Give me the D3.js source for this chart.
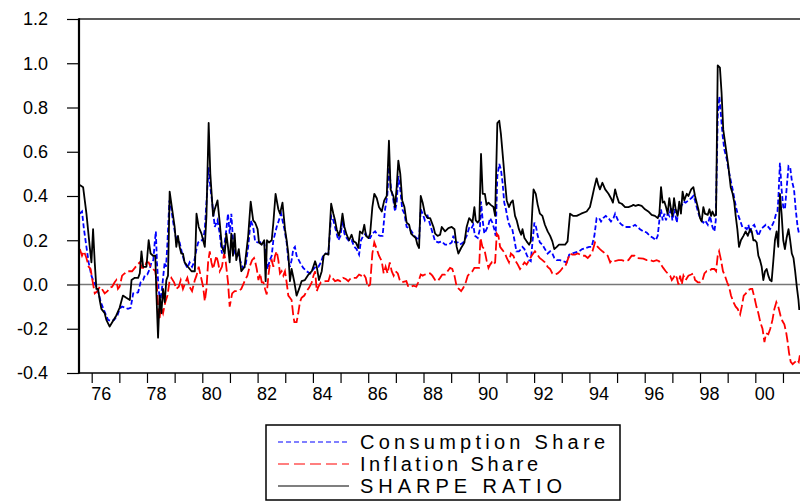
<!DOCTYPE html>
<html>
<head>
<meta charset="utf-8">
<script src="https://cdn.jsdelivr.net/npm/d3@7"></script>
<style>
  body { margin: 0; background: #fff; }
  svg { display: block; font-family: "Liberation Sans", Arial, sans-serif; }
</style>
</head>
<body>
<div id="chart"></div>
<script>
// series values as [year, value]
const consumption = [
  [1975.57,0.32],[1975.65,0.33],[1975.72,0.25],[1975.81,0.17],[1975.89,0.10],[1975.99,0.04],[1976.08,0.01],[1976.17,-0.01],
  [1976.25,-0.04],[1976.33,-0.08],[1976.41,-0.105],[1976.49,-0.13],[1976.59,-0.16],[1976.69,-0.165],[1976.81,-0.16],[1976.93,-0.14],
  [1977.01,-0.11],[1977.10,-0.10],[1977.22,-0.105],[1977.31,-0.11],[1977.41,-0.105],[1977.50,-0.04],[1977.58,-0.04],[1977.68,-0.035],
  [1977.77,0.01],[1977.86,0.02],[1977.92,0.04],[1978.01,0.045],[1978.10,0.07],[1978.16,0.10],[1978.23,0.11],[1978.28,0.19],
  [1978.32,0.24],[1978.36,0.10],[1978.42,-0.02],[1978.48,-0.08],[1978.54,-0.02],[1978.59,0.04],[1978.64,0.10],[1978.69,0.08],
  [1978.74,0.19],[1978.81,0.38],[1978.88,0.34],[1978.95,0.28],[1979.03,0.22],[1979.10,0.20],[1979.18,0.19],[1979.27,0.14],
  [1979.36,0.10],[1979.46,0.075],[1979.54,0.10],[1979.63,0.08],[1979.70,0.10],[1979.79,0.16],[1979.85,0.19],[1979.94,0.20],
  [1980.03,0.20],[1980.09,0.25],[1980.18,0.43],[1980.23,0.53],[1980.29,0.44],[1980.36,0.37],[1980.45,0.26],[1980.55,0.29],
  [1980.63,0.23],[1980.71,0.14],[1980.79,0.17],[1980.87,0.25],[1980.93,0.32],[1980.99,0.23],[1981.05,0.32],[1981.11,0.20],
  [1981.20,0.13],[1981.29,0.14],[1981.39,0.10],[1981.47,0.075],[1981.56,0.08],[1981.66,0.17],[1981.75,0.29],[1981.84,0.26],
  [1981.91,0.195],[1982.00,0.19],[1982.09,0.19],[1982.17,0.195],[1982.24,0.19],[1982.30,0.13],[1982.36,0.07],[1982.44,0.11],
  [1982.51,0.13],[1982.57,0.20],[1982.63,0.23],[1982.69,0.26],[1982.77,0.29],[1982.85,0.32],[1982.90,0.29],[1982.97,0.25],
  [1983.05,0.19],[1983.11,0.11],[1983.17,0.08],[1983.23,0.11],[1983.29,0.16],[1983.35,0.17],[1983.41,0.13],[1983.53,0.10],
  [1983.65,0.075],[1983.77,0.06],[1983.90,0.05],[1984.02,0.07],[1984.10,0.08],[1984.20,0.08],[1984.29,0.10],[1984.38,0.135],
  [1984.46,0.14],[1984.56,0.14],[1984.66,0.31],[1984.74,0.29],[1984.82,0.25],[1984.92,0.20],[1985.00,0.22],[1985.07,0.29],
  [1985.14,0.23],[1985.22,0.21],[1985.31,0.195],[1985.40,0.20],[1985.50,0.17],[1985.58,0.16],[1985.67,0.135],[1985.74,0.20],
  [1985.82,0.22],[1985.91,0.23],[1985.98,0.21],[1986.07,0.21],[1986.15,0.23],[1986.25,0.24],[1986.34,0.225],[1986.43,0.22],
  [1986.52,0.22],[1986.61,0.34],[1986.69,0.40],[1986.75,0.53],[1986.83,0.43],[1986.91,0.38],[1986.97,0.33],[1987.03,0.37],
  [1987.09,0.49],[1987.16,0.43],[1987.23,0.34],[1987.31,0.32],[1987.39,0.26],[1987.48,0.255],[1987.57,0.24],[1987.67,0.22],
  [1987.75,0.21],[1987.84,0.20],[1987.90,0.34],[1987.97,0.32],[1988.05,0.29],[1988.15,0.31],[1988.24,0.27],[1988.36,0.22],
  [1988.42,0.195],[1988.54,0.19],[1988.66,0.195],[1988.78,0.18],[1988.90,0.18],[1989.02,0.19],[1989.08,0.22],[1989.14,0.19],
  [1989.24,0.19],[1989.32,0.18],[1989.44,0.19],[1989.56,0.22],[1989.65,0.255],[1989.72,0.25],[1989.80,0.27],[1989.86,0.22],
  [1989.96,0.21],[1990.04,0.25],[1990.08,0.375],[1990.14,0.29],[1990.20,0.23],[1990.28,0.25],[1990.35,0.27],[1990.41,0.30],
  [1990.49,0.28],[1990.56,0.25],[1990.61,0.22],[1990.67,0.49],[1990.74,0.545],[1990.80,0.52],[1990.86,0.46],[1990.92,0.37],
  [1990.98,0.34],[1991.07,0.28],[1991.14,0.26],[1991.21,0.25],[1991.29,0.20],[1991.36,0.15],[1991.45,0.15],[1991.53,0.16],
  [1991.58,0.17],[1991.65,0.16],[1991.73,0.135],[1991.82,0.11],[1991.88,0.105],[1991.94,0.19],[1992.01,0.28],[1992.07,0.26],
  [1992.13,0.22],[1992.21,0.19],[1992.30,0.18],[1992.39,0.16],[1992.49,0.14],[1992.58,0.15],[1992.66,0.14],[1992.73,0.12],
  [1992.82,0.11],[1992.94,0.11],[1993.06,0.105],[1993.18,0.10],[1993.27,0.135],[1993.38,0.14],[1993.50,0.145],[1993.62,0.15],
  [1993.74,0.16],[1993.87,0.165],[1993.99,0.17],[1994.08,0.17],[1994.18,0.22],[1994.26,0.30],[1994.35,0.30],[1994.42,0.285],
  [1994.50,0.30],[1994.59,0.31],[1994.69,0.30],[1994.78,0.285],[1994.87,0.30],[1994.93,0.32],[1995.05,0.285],[1995.17,0.27],
  [1995.29,0.26],[1995.41,0.26],[1995.53,0.26],[1995.65,0.27],[1995.83,0.25],[1995.95,0.24],[1996.07,0.235],[1996.19,0.22],
  [1996.31,0.21],[1996.40,0.20],[1996.47,0.22],[1996.53,0.29],[1996.59,0.34],[1996.65,0.29],[1996.71,0.32],[1996.77,0.29],
  [1996.83,0.32],[1996.89,0.31],[1996.95,0.35],[1997.00,0.29],[1997.07,0.34],[1997.16,0.28],[1997.22,0.34],[1997.31,0.35],
  [1997.40,0.375],[1997.48,0.37],[1997.58,0.38],[1997.68,0.39],[1997.76,0.40],[1997.82,0.38],[1997.88,0.35],[1997.96,0.315],
  [1998.04,0.29],[1998.12,0.28],[1998.18,0.29],[1998.28,0.27],[1998.36,0.31],[1998.45,0.26],[1998.52,0.24],[1998.57,0.29],
  [1998.64,0.76],[1998.70,0.85],[1998.76,0.76],[1998.82,0.67],[1998.88,0.61],[1998.97,0.565],[1999.03,0.52],[1999.11,0.47],
  [1999.18,0.43],[1999.24,0.39],[1999.30,0.35],[1999.36,0.32],[1999.45,0.29],[1999.53,0.26],[1999.60,0.26],[1999.69,0.25],
  [1999.75,0.27],[1999.81,0.235],[1999.87,0.26],[1999.96,0.27],[2000.05,0.24],[2000.11,0.22],[2000.21,0.25],[2000.29,0.26],
  [2000.38,0.27],[2000.47,0.26],[2000.53,0.25],[2000.62,0.27],[2000.69,0.29],[2000.75,0.32],[2000.80,0.33],[2000.83,0.38],
  [2000.89,0.55],[2000.95,0.43],[2001.01,0.35],[2001.07,0.34],[2001.13,0.43],[2001.20,0.535],[2001.26,0.53],[2001.32,0.47],
  [2001.40,0.43],[2001.46,0.34],[2001.53,0.26],[2001.59,0.225]
];

const inflation = [
  [1975.57,0.16],[1975.65,0.13],[1975.72,0.15],[1975.81,0.12],[1975.89,0.08],[1975.96,0.07],[1976.04,0.01],[1976.11,-0.04],
  [1976.21,-0.03],[1976.29,-0.01],[1976.37,-0.02],[1976.47,-0.04],[1976.57,-0.03],[1976.65,-0.015],[1976.74,-0.01],[1976.83,0.01],
  [1976.89,0.02],[1976.95,-0.02],[1977.01,-0.01],[1977.10,0.04],[1977.19,0.05],[1977.29,0.06],[1977.46,0.06],[1977.56,0.075],
  [1977.65,0.09],[1977.74,0.10],[1977.82,0.075],[1977.92,0.075],[1977.98,0.10],[1978.06,0.10],[1978.13,0.08],[1978.22,0.07],
  [1978.30,0.06],[1978.35,0.01],[1978.40,-0.10],[1978.45,-0.16],[1978.50,-0.10],[1978.58,-0.13],[1978.66,-0.08],[1978.74,-0.05],
  [1978.81,0.01],[1978.88,0.03],[1978.98,0.01],[1979.06,-0.02],[1979.15,-0.01],[1979.22,0.02],[1979.30,-0.02],[1979.39,0.01],
  [1979.46,0.03],[1979.54,-0.01],[1979.63,-0.03],[1979.73,0.02],[1979.79,0.04],[1979.87,0.08],[1979.94,0.04],[1980.03,-0.01],
  [1980.09,-0.075],[1980.15,-0.02],[1980.21,0.10],[1980.27,0.15],[1980.33,0.10],[1980.39,0.07],[1980.45,0.10],[1980.51,0.13],
  [1980.57,0.10],[1980.63,0.06],[1980.71,0.08],[1980.79,0.14],[1980.85,0.10],[1980.93,0.01],[1980.99,-0.10],[1981.08,-0.04],
  [1981.17,-0.03],[1981.29,-0.03],[1981.41,-0.02],[1981.53,0.015],[1981.63,0.04],[1981.71,0.08],[1981.80,0.11],[1981.87,0.12],
  [1981.91,0.105],[1981.97,0.07],[1982.03,0.02],[1982.09,0.05],[1982.15,0.01],[1982.21,0.01],[1982.27,-0.02],[1982.33,-0.045],
  [1982.39,0.04],[1982.45,0.10],[1982.51,0.11],[1982.57,0.08],[1982.63,0.13],[1982.69,0.15],[1982.75,0.11],[1982.81,0.05],
  [1982.87,0.06],[1982.93,0.04],[1982.99,0.06],[1983.05,0.01],[1983.11,-0.05],[1983.17,-0.06],[1983.23,-0.07],[1983.29,-0.14],
  [1983.33,-0.17],[1983.41,-0.17],[1983.47,-0.13],[1983.53,-0.08],[1983.59,-0.06],[1983.69,-0.05],[1983.77,-0.03],[1983.86,-0.015],
  [1983.96,0.01],[1984.02,0.04],[1984.08,0.06],[1984.14,-0.03],[1984.20,-0.01],[1984.29,0.01],[1984.46,0.015],[1984.56,0.015],
  [1984.62,0.04],[1984.70,0.03],[1984.80,0.015],[1984.90,0.02],[1984.99,0.015],[1985.09,0.03],[1985.19,0.025],[1985.28,0.015],
  [1985.38,0.03],[1985.57,0.03],[1985.67,0.045],[1985.74,0.04],[1985.82,0.05],[1985.91,0.03],[1985.98,-0.01],[1986.07,0.0],
  [1986.15,0.14],[1986.22,0.19],[1986.31,0.16],[1986.39,0.13],[1986.49,0.105],[1986.56,0.05],[1986.63,0.08],[1986.70,0.05],
  [1986.78,0.10],[1986.85,0.06],[1986.92,0.04],[1986.99,0.06],[1987.07,0.05],[1987.14,0.02],[1987.21,0.01],[1987.38,0.015],
  [1987.45,-0.01],[1987.55,-0.01],[1987.64,-0.005],[1987.74,-0.01],[1987.81,0.01],[1987.90,0.045],[1987.97,0.04],[1988.05,0.045],
  [1988.15,0.05],[1988.24,0.05],[1988.32,0.04],[1988.42,0.02],[1988.51,0.015],[1988.60,0.03],[1988.68,0.045],[1988.78,0.045],
  [1988.87,0.06],[1988.96,0.075],[1989.04,0.07],[1989.12,0.04],[1989.20,-0.01],[1989.28,-0.02],[1989.36,-0.03],[1989.44,-0.015],
  [1989.53,0.01],[1989.60,0.04],[1989.68,0.05],[1989.77,0.06],[1989.84,0.075],[1990.01,0.075],[1990.06,0.21],[1990.13,0.17],
  [1990.20,0.16],[1990.28,0.11],[1990.35,0.075],[1990.41,0.09],[1990.47,0.10],[1990.53,0.09],[1990.59,0.10],[1990.65,0.23],
  [1990.71,0.22],[1990.77,0.17],[1990.83,0.16],[1990.89,0.15],[1990.95,0.14],[1991.01,0.12],[1991.09,0.10],[1991.16,0.14],
  [1991.25,0.13],[1991.31,0.11],[1991.41,0.09],[1991.49,0.07],[1991.55,0.08],[1991.65,0.10],[1991.73,0.09],[1991.82,0.11],
  [1991.91,0.13],[1991.97,0.14],[1992.03,0.15],[1992.12,0.135],[1992.20,0.12],[1992.30,0.11],[1992.39,0.10],[1992.49,0.08],
  [1992.58,0.07],[1992.66,0.05],[1992.76,0.045],[1992.85,0.05],[1992.94,0.06],[1993.03,0.075],[1993.12,0.08],[1993.21,0.11],
  [1993.30,0.14],[1993.38,0.135],[1993.48,0.135],[1993.58,0.14],[1993.66,0.135],[1993.74,0.13],[1993.84,0.13],[1993.94,0.12],
  [1994.02,0.13],[1994.11,0.15],[1994.20,0.19],[1994.30,0.17],[1994.38,0.16],[1994.47,0.15],[1994.57,0.14],[1994.66,0.13],
  [1994.75,0.10],[1994.81,0.11],[1994.90,0.105],[1995.05,0.11],[1995.17,0.11],[1995.29,0.105],[1995.41,0.11],[1995.53,0.13],
  [1995.63,0.13],[1995.71,0.12],[1995.95,0.117],[1996.07,0.11],[1996.19,0.11],[1996.31,0.105],[1996.43,0.11],[1996.52,0.105],
  [1996.59,0.09],[1996.67,0.075],[1996.76,0.06],[1996.83,0.05],[1996.92,0.04],[1996.98,0.02],[1997.04,0.03],[1997.10,0.045],
  [1997.16,0.03],[1997.22,0.0],[1997.28,0.04],[1997.34,0.0],[1997.40,0.04],[1997.48,0.02],[1997.58,0.04],[1997.68,0.045],
  [1997.76,0.05],[1997.82,0.02],[1997.92,0.01],[1998.00,0.01],[1998.08,0.015],[1998.16,0.05],[1998.24,0.06],[1998.33,0.06],
  [1998.42,0.07],[1998.52,0.07],[1998.58,0.06],[1998.64,0.13],[1998.69,0.15],[1998.76,0.11],[1998.83,0.06],[1998.90,0.04],
  [1998.98,0.01],[1999.05,-0.01],[1999.12,-0.05],[1999.21,-0.08],[1999.29,-0.10],[1999.36,-0.11],[1999.45,-0.135],[1999.51,-0.10],
  [1999.58,-0.05],[1999.66,-0.04],[1999.75,-0.025],[1999.83,-0.02],[1999.89,-0.02],[1999.97,-0.06],[2000.04,-0.10],[2000.11,-0.13],
  [2000.18,-0.17],[2000.26,-0.20],[2000.33,-0.26],[2000.39,-0.22],[2000.47,-0.225],[2000.54,-0.20],[2000.62,-0.16],[2000.69,-0.11],
  [2000.76,-0.08],[2000.83,-0.10],[2000.91,-0.14],[2000.98,-0.165],[2001.05,-0.18],[2001.12,-0.22],[2001.17,-0.26],[2001.22,-0.31],
  [2001.28,-0.35],[2001.35,-0.36],[2001.44,-0.35],[2001.51,-0.34],[2001.57,-0.35],[2001.61,-0.32]
];

const sharpe = [
  [1975.57,0.45],[1975.69,0.44],[1975.81,0.32],[1975.93,0.17],[1975.99,0.10],[1976.05,0.25],[1976.11,0.10],[1976.17,-0.02],
  [1976.23,-0.02],[1976.29,-0.07],[1976.35,-0.11],[1976.47,-0.13],[1976.53,-0.16],[1976.65,-0.19],[1976.77,-0.165],[1976.89,-0.14],
  [1977.01,-0.105],[1977.13,-0.05],[1977.25,-0.06],[1977.38,-0.07],[1977.44,0.02],[1977.56,0.03],[1977.68,0.03],[1977.74,0.05],
  [1977.80,0.15],[1977.86,0.08],[1977.98,0.08],[1978.06,0.20],[1978.13,0.14],[1978.22,0.13],[1978.30,0.13],[1978.34,-0.04],
  [1978.40,-0.24],[1978.46,-0.05],[1978.52,-0.13],[1978.58,-0.02],[1978.64,-0.08],[1978.70,0.02],[1978.76,0.04],[1978.82,0.42],
  [1978.91,0.34],[1979.00,0.26],[1979.06,0.17],[1979.12,0.22],[1979.18,0.17],[1979.24,0.14],[1979.30,0.14],[1979.36,0.10],
  [1979.48,0.08],[1979.61,0.06],[1979.73,0.06],[1979.79,0.32],[1979.87,0.26],[1979.97,0.23],[1980.03,0.20],[1980.09,0.17],
  [1980.15,0.31],[1980.23,0.73],[1980.29,0.50],[1980.39,0.31],[1980.45,0.34],[1980.55,0.38],[1980.63,0.28],[1980.71,0.17],
  [1980.81,0.14],[1980.87,0.23],[1980.93,0.17],[1980.99,0.10],[1981.05,0.23],[1981.11,0.13],[1981.17,0.23],[1981.23,0.11],
  [1981.32,0.16],[1981.41,0.06],[1981.53,0.08],[1981.66,0.22],[1981.75,0.375],[1981.84,0.29],[1981.91,0.28],[1982.00,0.25],
  [1982.05,0.19],[1982.15,0.18],[1982.24,0.20],[1982.29,0.015],[1982.34,0.20],[1982.41,0.19],[1982.51,0.20],[1982.57,0.28],
  [1982.65,0.41],[1982.75,0.34],[1982.81,0.32],[1982.90,0.37],[1982.99,0.25],[1983.05,0.20],[1983.11,0.14],[1983.17,0.015],
  [1983.23,0.07],[1983.33,0.01],[1983.41,-0.05],[1983.50,-0.02],[1983.59,0.015],[1983.71,0.02],[1983.84,0.045],[1983.96,0.06],
  [1984.08,0.105],[1984.14,0.08],[1984.22,0.02],[1984.32,0.06],[1984.39,0.13],[1984.46,0.14],[1984.56,0.135],[1984.66,0.365],
  [1984.74,0.32],[1984.80,0.29],[1984.86,0.25],[1984.94,0.22],[1985.00,0.25],[1985.07,0.32],[1985.14,0.26],[1985.22,0.225],
  [1985.31,0.20],[1985.40,0.225],[1985.47,0.195],[1985.55,0.19],[1985.64,0.165],[1985.70,0.24],[1985.79,0.23],[1985.86,0.27],
  [1985.92,0.22],[1986.01,0.21],[1986.07,0.23],[1986.15,0.35],[1986.22,0.41],[1986.31,0.39],[1986.39,0.35],[1986.49,0.33],
  [1986.58,0.38],[1986.67,0.40],[1986.75,0.65],[1986.81,0.43],[1986.91,0.40],[1986.97,0.35],[1987.03,0.44],[1987.09,0.56],
  [1987.16,0.50],[1987.23,0.38],[1987.31,0.35],[1987.39,0.28],[1987.48,0.27],[1987.55,0.23],[1987.63,0.22],[1987.72,0.21],
  [1987.78,0.18],[1987.84,0.165],[1987.90,0.40],[1987.97,0.37],[1988.05,0.32],[1988.15,0.30],[1988.24,0.30],[1988.36,0.26],
  [1988.42,0.23],[1988.51,0.22],[1988.60,0.225],[1988.66,0.26],[1988.78,0.24],[1988.90,0.255],[1989.02,0.26],[1989.12,0.25],
  [1989.20,0.17],[1989.26,0.14],[1989.36,0.165],[1989.48,0.19],[1989.56,0.26],[1989.65,0.30],[1989.72,0.29],[1989.77,0.28],
  [1989.84,0.35],[1989.89,0.29],[1989.96,0.28],[1990.02,0.29],[1990.08,0.59],[1990.14,0.41],[1990.22,0.41],[1990.28,0.36],
  [1990.35,0.37],[1990.43,0.36],[1990.53,0.35],[1990.59,0.31],[1990.67,0.73],[1990.74,0.74],[1990.80,0.68],[1990.89,0.55],
  [1990.95,0.46],[1991.01,0.38],[1991.09,0.35],[1991.16,0.37],[1991.23,0.38],[1991.31,0.31],[1991.37,0.29],[1991.45,0.25],
  [1991.53,0.225],[1991.58,0.25],[1991.65,0.21],[1991.73,0.195],[1991.82,0.18],[1991.88,0.195],[1991.94,0.35],[1991.98,0.43],
  [1992.06,0.41],[1992.13,0.36],[1992.21,0.32],[1992.30,0.31],[1992.39,0.27],[1992.49,0.24],[1992.58,0.22],[1992.66,0.195],
  [1992.73,0.16],[1992.82,0.17],[1992.90,0.18],[1993.12,0.18],[1993.21,0.195],[1993.30,0.32],[1993.42,0.31],[1993.54,0.31],
  [1993.70,0.32],[1993.90,0.33],[1994.02,0.35],[1994.11,0.40],[1994.18,0.44],[1994.26,0.48],[1994.32,0.45],[1994.38,0.43],
  [1994.47,0.46],[1994.57,0.43],[1994.69,0.41],[1994.78,0.39],[1994.85,0.37],[1994.93,0.43],[1994.99,0.40],[1995.07,0.37],
  [1995.17,0.365],[1995.29,0.35],[1995.41,0.35],[1995.53,0.355],[1995.59,0.36],[1995.67,0.355],[1995.77,0.36],[1995.89,0.355],
  [1996.01,0.34],[1996.13,0.33],[1996.25,0.315],[1996.37,0.31],[1996.47,0.30],[1996.53,0.32],[1996.59,0.44],[1996.65,0.37],
  [1996.71,0.375],[1996.77,0.35],[1996.83,0.32],[1996.89,0.39],[1996.95,0.34],[1997.00,0.31],[1997.06,0.39],[1997.12,0.34],
  [1997.19,0.31],[1997.25,0.375],[1997.31,0.32],[1997.37,0.42],[1997.43,0.38],[1997.52,0.41],[1997.58,0.40],[1997.68,0.43],
  [1997.76,0.44],[1997.82,0.40],[1997.88,0.37],[1997.94,0.34],[1998.00,0.30],[1998.06,0.285],[1998.12,0.35],[1998.18,0.32],
  [1998.28,0.315],[1998.34,0.34],[1998.40,0.31],[1998.45,0.33],[1998.52,0.31],[1998.58,0.315],[1998.64,0.99],[1998.72,0.98],
  [1998.78,0.865],[1998.84,0.70],[1998.93,0.62],[1999.02,0.54],[1999.11,0.44],[1999.18,0.41],[1999.24,0.37],[1999.29,0.31],
  [1999.35,0.25],[1999.41,0.17],[1999.48,0.20],[1999.57,0.22],[1999.65,0.24],[1999.73,0.22],[1999.81,0.25],[1999.87,0.24],
  [1999.93,0.20],[1999.99,0.20],[2000.05,0.19],[2000.11,0.13],[2000.17,0.11],[2000.23,0.08],[2000.29,0.02],[2000.35,0.06],
  [2000.41,0.07],[2000.47,0.04],[2000.53,0.02],[2000.59,0.015],[2000.65,0.105],[2000.71,0.20],[2000.77,0.24],[2000.83,0.17],
  [2000.89,0.41],[2000.95,0.32],[2001.01,0.20],[2001.07,0.16],[2001.13,0.21],[2001.20,0.25],[2001.26,0.20],[2001.32,0.14],
  [2001.38,0.12],[2001.44,0.06],[2001.50,-0.01],[2001.56,-0.07],[2001.59,-0.115]
];

// axis ticks and labels
const yTicks = [-0.4, -0.2, 0.0, 0.2, 0.4, 0.6, 0.8, 1.0, 1.2];
const yearTicks = [1976,1977,1978,1979,1980,1981,1982,1983,1984,1985,1986,1987,1988,
                   1989,1990,1991,1992,1993,1994,1995,1996,1997,1998,1999,2000,2001];
const yearLabelYears = [1976,1978,1980,1982,1984,1986,1988,1990,1992,1994,1996,1998,2000];
const yearLabels = ["76","78","80","82","84","86","88","90","92","94","96","98","00"];
const seriesNames = ["Consumption Share", "Inflation Share", "SHARPE RATIO"];

const width = 800, height = 502;
const plot = {left: 79, right: 801, top: 19, bottom: 373};

const svg = d3.select("#chart").append("svg")
    .attr("width", width)
    .attr("height", height);

const x = d3.scaleLinear().domain([1975.541, 2001.652]).range([plot.left, plot.right]);
const y = d3.scaleLinear().domain([-0.4, 1.2]).range([plot.bottom, plot.top]);

// clip lines to the plot frame
svg.append("defs").append("clipPath").attr("id", "clip")
    .append("rect")
    .attr("x", plot.left).attr("y", plot.top)
    .attr("width", plot.right - plot.left).attr("height", plot.bottom - plot.top);

// y axis (ticks point outward)
const yAxis = svg.append("g")
    .attr("transform", `translate(${plot.left},0)`)
    .call(d3.axisLeft(y).tickValues(yTicks).tickSize(12).tickPadding(19)
        .tickFormat(d => d.toFixed(1)));
yAxis.select(".domain").remove();
yAxis.selectAll(".tick line").attr("stroke", "#000").attr("stroke-width", 1.2);
yAxis.selectAll(".tick text")
    .attr("fill", "#000")
    .style("font-size", "18px")
    .style("font-family", "'Liberation Sans', Arial, sans-serif");

// x axis: yearly ticks, labels every second year
const xAxis = svg.append("g")
    .attr("transform", `translate(0,${plot.bottom})`)
    .call(d3.axisBottom(x).tickValues(yearTicks).tickSize(10).tickFormat(""));
xAxis.select(".domain").remove();
xAxis.selectAll(".tick line").attr("stroke", "#000").attr("stroke-width", 1.2);

svg.append("g").selectAll("text")
    .data(yearLabelYears)
    .enter().append("text")
    .attr("x", d => x(d) + 9.5)
    .attr("y", 400)
    .attr("text-anchor", "middle")
    .style("font-size", "18px")
    .text((d, i) => yearLabels[i]);

// zero line
svg.append("line")
    .attr("x1", plot.left).attr("x2", plot.right)
    .attr("y1", y(0)).attr("y2", y(0))
    .attr("stroke", "#777").attr("stroke-width", 1.6);

// series lines
const line = d3.line().x(d => x(d[0])).y(d => y(d[1]));
const lines = svg.append("g").attr("clip-path", "url(#clip)");

lines.append("path").datum(consumption)
    .attr("d", line).attr("fill", "none")
    .attr("stroke", "#0000ff").attr("stroke-width", 1.8)
    .attr("stroke-dasharray", "5,2.5");

lines.append("path").datum(inflation)
    .attr("d", line).attr("fill", "none")
    .attr("stroke", "#ff0000").attr("stroke-width", 1.8)
    .attr("stroke-dasharray", "10,3.5");

lines.append("path").datum(sharpe)
    .attr("d", line).attr("fill", "none")
    .attr("stroke", "#000").attr("stroke-width", 1.8)
    .attr("stroke-linejoin", "round");

// frame: heavy left axis, top and bottom borders
svg.append("line")
    .attr("x1", plot.left).attr("x2", plot.right)
    .attr("y1", plot.top).attr("y2", plot.top)
    .attr("stroke", "#222").attr("stroke-width", 1.5);
svg.append("line")
    .attr("x1", plot.left).attr("x2", plot.right)
    .attr("y1", plot.bottom).attr("y2", plot.bottom)
    .attr("stroke", "#000").attr("stroke-width", 1.5);
svg.append("line")
    .attr("x1", plot.left).attr("x2", plot.left)
    .attr("y1", plot.top - 0.75).attr("y2", plot.bottom + 0.75)
    .attr("stroke", "#000").attr("stroke-width", 2.2);

// legend
const legend = svg.append("g");
legend.append("rect")
    .attr("x", 266).attr("y", 425)
    .attr("width", 354).attr("height", 75)
    .attr("fill", "#fff").attr("stroke", "#000").attr("stroke-width", 1.5);

// per-entry line style and the spread-out width of the label text
const legendStyles = [
    {color: "#0000ff", dash: "5,3", textWidth: 245},
    {color: "#ff0000", dash: "11,5", textWidth: 178},
    {color: "#000", dash: null, textWidth: 202}
];

seriesNames.forEach((name, i) => {
    const ly = 442 + i * 22;
    legend.append("line")
        .attr("x1", 278).attr("x2", 349)
        .attr("y1", ly).attr("y2", ly)
        .attr("stroke", legendStyles[i].color)
        .attr("stroke-width", 1.2)
        .attr("stroke-dasharray", legendStyles[i].dash);
    legend.append("text")
        .attr("x", 360).attr("y", ly + 6.5)
        .attr("textLength", legendStyles[i].textWidth)
        .attr("lengthAdjust", "spacing")
        .style("font-size", "20px")
        .text(name);
});
</script>
</body>
</html>
